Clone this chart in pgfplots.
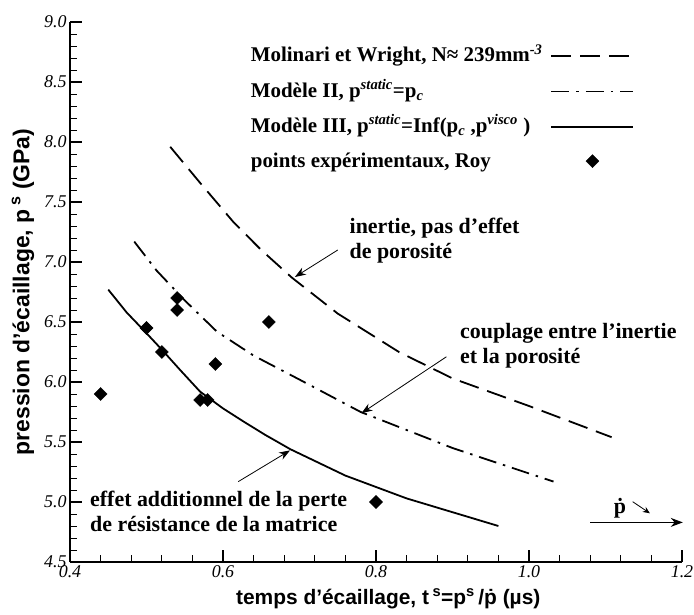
\documentclass[border=0pt]{standalone}
\usepackage{fontspec}
\setmainfont{Liberation Serif}
\setsansfont{Liberation Sans}
\usepackage{pgfplots}
\usepackage{pgfplotstable}
\pgfplotsset{compat=1.18}
\usetikzlibrary{arrows.meta}

\pgfplotsset{
  linelegend/.style={legend image code/.code={\draw[##1,mark=none] (0bp,0bp) -- (82bp,0bp);}},
  marklegend/.style={legend image code/.code={\path[draw=none,fill=none] (0bp,0bp) -- (82bp,0bp);\path[##1,draw=none] plot coordinates {(41bp,1bp)};}},
}

\pgfplotstableread{
x y
0.531 7.96
0.570 7.66
0.614 7.33
0.650 7.10
0.690 6.87
0.750 6.57
0.830 6.25
0.900 6.03
1.000 5.80
1.108 5.54
}\molinari

\pgfplotstableread{
x y
0.484 7.17
0.513 6.93
0.550 6.68
0.592 6.42
0.640 6.22
0.700 6.02
0.780 5.75
0.900 5.45
1.032 5.17
}\modeleII

\pgfplotstableread{
x y
0.450 6.77
0.474 6.58
0.498 6.42
0.520 6.27
0.544 6.10
0.570 5.92
0.600 5.78
0.627 5.67
0.655 5.56
0.688 5.44
0.760 5.22
0.840 5.03
0.960 4.80
}\modeleIII

\pgfplotstableread{
x y
0.44 5.90
0.50 6.45
0.52 6.25
0.54 6.70
0.54 6.60
0.57 5.85
0.58 5.85
0.59 6.15
0.66 6.50
0.80 5.00
}\roy

\begin{document}
\begin{tikzpicture}
\useasboundingbox (-70bp,-53bp) rectangle (624bp,562bp);
\begin{axis}[
  at={(0,0)}, anchor=south west,
  scale only axis, width=612bp, height=540bp,
  xmin=0.4, xmax=1.2, ymin=4.5, ymax=9.0,
  axis x line=bottom, axis y line=left,
  axis line style={line width=2.5bp,-},
  xtick={0.4,0.6,0.8,1.0,1.2},
  ytick={4.5,5.0,5.5,6.0,6.5,7.0,7.5,8.0,8.5,9.0},
  minor x tick num=4, minor y tick num=4,
  tick align=inside,
  major tick length=12bp, minor tick length=7bp,
  every major tick/.style={line width=2bp,black},
  every minor tick/.style={line width=0.9bp,black},
  tick label style={font=\fontsize{18}{18}\selectfont\itshape},
  /pgf/number format/assume math mode=true,
  xticklabel={\pgfmathprintnumber[fixed,fixed zerofill,precision=1]{\tick}},
  yticklabel={\pgfmathprintnumber[fixed,fixed zerofill,precision=1]{\tick}},
  xlabel={\sffamily\bfseries temps d’écaillage, t\,\textsuperscript{s}=p\textsuperscript{s}\,/\.{p} (µs)},
  ylabel={\sffamily\bfseries pression d’écaillage, p\,\textsuperscript{s} (GPa)},
  xlabel style={at={(axis description cs:0.52,-0.068)},anchor=center,font=\fontsize{21}{21}\selectfont},
  ylabel style={at={(axis description cs:-0.077,0.5)},anchor=center,font=\fontsize{23}{23}\selectfont},
  clip=false,
  legend plot pos=right,
  legend cell align=left,
  legend style={at={(axis description cs:0.292,0.960)}, anchor=north west,
    draw=none, fill=none, font=\fontsize{21}{24}\selectfont\bfseries,
    nodes={text height=16bp, text depth=5bp},
    row sep=10.3bp, column sep=6bp, inner sep=0pt},
]
\addplot[black, line width=1.8bp, dash pattern=on 20bp off 9bp, linelegend] table[x=x,y=y] {\molinari};
\addlegendentry{Molinari et Wright, N≈ 239mm\textsuperscript{\itshape -3}}
\addplot[black, line width=1.8bp, dash pattern=on 18bp off 7bp on 2.5bp off 7bp, linelegend] table[x=x,y=y] {\modeleII};
\addlegendentry{Modèle II, p\textsuperscript{\itshape static}=p\textsubscript{\itshape c}}
\addplot[black, line width=1.8bp, linelegend] table[x=x,y=y] {\modeleIII};
\addlegendentry{Modèle III, p\textsuperscript{\itshape static}=Inf(p\textsubscript{\itshape c} ,p\textsuperscript{\itshape visco} )}
\addplot[only marks, mark=square*, mark size=4.6bp, mark options={rotate=45,fill=black,draw=black}, black, marklegend]
  table[x=x,y=y] {\roy};
\addlegendentry{points expérimentaux, Roy}

% annotations
\node[anchor=west, align=left, font=\fontsize{22}{25}\selectfont\bfseries] at (axis cs:0.761,7.18) {inertie, pas d’effet\\de porosité};
\draw[-{Stealth[length=11bp,width=8bp]}, line width=0.8bp] (axis cs:0.750,7.10) -- (axis cs:0.694,6.875);
\node[anchor=west, align=left, font=\fontsize{22}{25}\selectfont\bfseries] at (axis cs:0.9055,6.30) {couplage entre l’inertie\\et la porosité};
\draw[-{Stealth[length=11bp,width=8bp]}, line width=0.8bp] (axis cs:0.892,6.21) -- (axis cs:0.781,5.74);
\node[anchor=west, align=left, font=\fontsize{22}{25}\selectfont\bfseries] at (axis cs:0.4218,4.925) {effet additionnel de la perte\\de résistance de la matrice};
\draw[-{Stealth[length=11bp,width=8bp]}, line width=0.8bp] (axis cs:0.620,5.17) -- (axis cs:0.6876,5.43);
% p-dot arrow
\draw[-{Stealth[length=12bp,width=9bp]}, line width=1bp] (axis cs:1.08,4.83) -- (axis cs:1.201,4.83);
\node[font=\fontsize{22}{22}\selectfont\bfseries] at (axis cs:1.119,4.95) {\.{p}};
\draw[-{Stealth[length=7bp,width=6bp]}, line width=0.8bp] (axis cs:1.1355,5.0025) -- (axis cs:1.158,4.906);
\end{axis}
\end{tikzpicture}
\end{document}
